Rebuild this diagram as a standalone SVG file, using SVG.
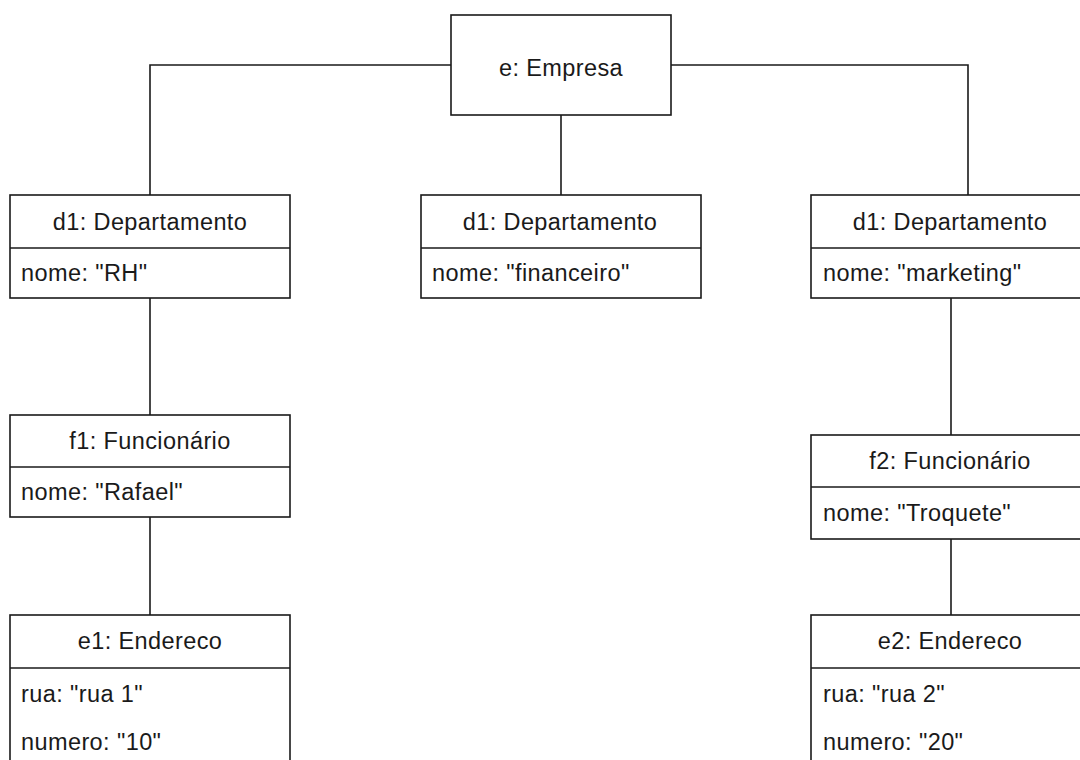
<svg xmlns="http://www.w3.org/2000/svg" width="1080" height="760" viewBox="0 0 1080 760">
  <style>
    .box { fill: #ffffff; stroke: #1a1a1a; stroke-width: 1.6; }
    .sep { stroke: #1a1a1a; stroke-width: 1.6; }
    .wire { fill: none; stroke: #1a1a1a; stroke-width: 1.6; }
    text { font-family: "Liberation Sans", Arial, sans-serif; font-size: 23.5px; fill: #1a1a1a; letter-spacing: 0.4px; }
    .title { text-anchor: middle; }
  </style>
  <rect width="1080" height="760" fill="#ffffff"/>

  <!-- links between objects -->
  <g id="connectors">
    <polyline class="wire" points="451,65 150,65 150,195"/>
    <line class="wire" x1="561" y1="115" x2="561" y2="195"/>
    <polyline class="wire" points="671,65 968,65 968,195"/>
    <line class="wire" x1="150" y1="298" x2="150" y2="415"/>
    <line class="wire" x1="951" y1="298" x2="951" y2="435"/>
    <line class="wire" x1="150" y1="517" x2="150" y2="615"/>
    <line class="wire" x1="951" y1="539" x2="951" y2="615"/>
  </g>

  <g id="empresa">
    <rect class="box" x="451" y="15" width="220" height="100"/>
    <text class="title" x="561" y="76">e: Empresa</text>
  </g>

  <g id="dep-rh">
    <rect class="box" x="10" y="195" width="280" height="103"/>
    <line class="sep" x1="10" y1="248" x2="290" y2="248"/>
    <text class="title" x="150" y="230">d1: Departamento</text>
    <text x="21" y="281">nome: "RH"</text>
  </g>

  <g id="dep-financeiro">
    <rect class="box" x="421" y="195" width="280" height="103"/>
    <line class="sep" x1="421" y1="248" x2="701" y2="248"/>
    <text class="title" x="560" y="230">d1: Departamento</text>
    <text x="432" y="281">nome: "financeiro"</text>
  </g>

  <g id="dep-marketing">
    <rect class="box" x="811" y="195" width="280" height="103"/>
    <line class="sep" x1="811" y1="248" x2="1091" y2="248"/>
    <text class="title" x="950" y="230">d1: Departamento</text>
    <text x="823" y="281">nome: "marketing"</text>
  </g>

  <g id="func-f1">
    <rect class="box" x="10" y="415" width="280" height="102"/>
    <line class="sep" x1="10" y1="467" x2="290" y2="467"/>
    <text class="title" x="150" y="449">f1: Funcionário</text>
    <text x="21" y="500">nome: "Rafael"</text>
  </g>

  <g id="func-f2">
    <rect class="box" x="811" y="435" width="280" height="104"/>
    <line class="sep" x1="811" y1="487" x2="1091" y2="487"/>
    <text class="title" x="950" y="469">f2: Funcionário</text>
    <text x="823" y="521">nome: "Troquete"</text>
  </g>

  <g id="end-e1">
    <rect class="box" x="10" y="615" width="280" height="160"/>
    <line class="sep" x1="10" y1="668" x2="290" y2="668"/>
    <text class="title" x="150" y="649">e1: Endereco</text>
    <text x="21" y="702">rua: "rua 1"</text>
    <text x="21" y="750">numero: "10"</text>
  </g>

  <g id="end-e2">
    <rect class="box" x="811" y="615" width="280" height="160"/>
    <line class="sep" x1="811" y1="668" x2="1091" y2="668"/>
    <text class="title" x="950" y="649">e2: Endereco</text>
    <text x="823" y="702">rua: "rua 2"</text>
    <text x="823" y="750">numero: "20"</text>
  </g>
</svg>
